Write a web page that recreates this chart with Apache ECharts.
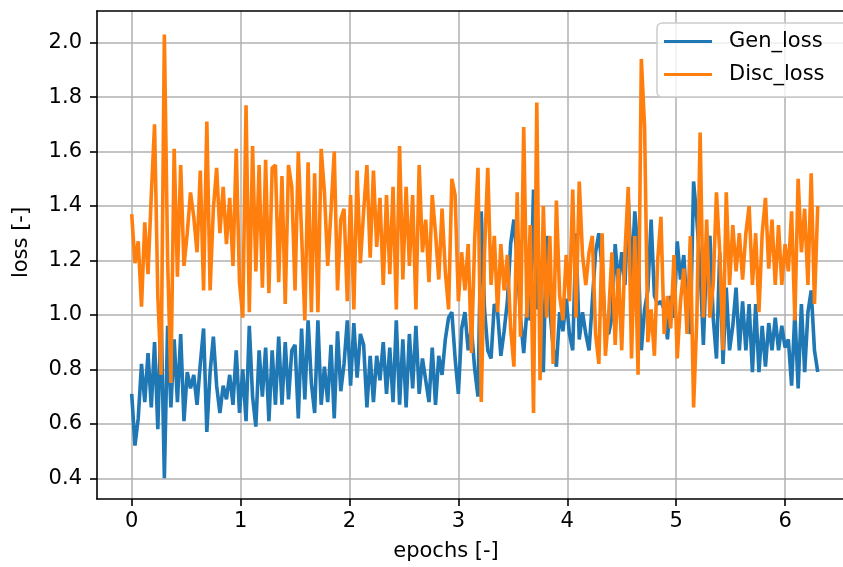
<!DOCTYPE html>
<html>
<head>
<meta charset="utf-8">
<script src="https://cdn.jsdelivr.net/npm/echarts@6/dist/echarts.min.js"></script>
<style>
html,body{margin:0;padding:0;background:#fff;}
#chart{width:843px;height:567px;}
</style>
</head>
<body>
<div id="chart"></div>
<script>
// sampling step of the logged losses, in epochs
const EPOCH_STEP = 0.03;

const xTicks = [0, 1, 2, 3, 4, 5, 6];
const yTicks = [0.4, 0.6, 0.8, 1.0, 1.2, 1.4, 1.6, 1.8, 2.0];
const seriesNames = ['Gen_loss', 'Disc_loss'];

const genLoss = [
  0.71, 0.52, 0.62, 0.82, 0.68, 0.86, 0.66, 0.90, 0.58, 1.01, 0.40, 0.96, 0.66, 0.91, 0.68, 0.93, 0.61, 0.79, 0.73, 0.78, 0.67, 0.82, 0.95, 0.57, 0.79, 0.92, 0.74, 0.64, 0.74, 0.69, 0.78, 0.67, 0.87, 0.64,
  0.80, 0.61, 0.96, 0.70, 0.59, 0.87, 0.70, 0.88, 0.61, 0.87, 0.67, 0.92, 0.67, 0.90, 0.69, 0.87, 0.89, 0.62, 0.95, 0.69, 0.98, 0.75, 0.64, 0.98, 0.67, 0.81, 0.68, 0.89, 0.62, 0.94, 0.72, 0.82, 0.98, 0.74, 0.97,
  0.77, 0.93, 0.89, 0.66, 0.85, 0.68, 0.85, 0.76, 0.90, 0.71, 0.88, 0.68, 0.98, 0.67, 0.91, 0.66, 0.93, 0.73, 0.96, 0.71, 0.84, 0.76, 0.68, 0.88, 0.67, 0.85, 0.78, 0.91, 0.99, 1.01, 0.84, 0.71, 0.95, 1.01, 0.87,
  0.95, 0.80, 0.70, 1.38, 1.02, 0.87, 0.84, 1.04, 1.01, 0.85, 0.94, 1.05, 1.26, 1.35, 1.20, 0.99, 0.86, 1.02, 0.98, 1.46, 1.02, 1.20, 0.79, 1.29, 1.02, 0.88, 0.81, 1.01, 0.94, 1.06, 0.93, 0.87, 1.30, 0.91, 1.01,
  0.93, 0.87, 1.05, 1.23, 1.30, 1.17, 0.94, 0.93, 0.99, 1.26, 1.11, 1.23, 1.11, 1.43, 1.13, 1.38, 1.23, 0.87, 1.02, 1.09, 1.35, 1.07, 1.04, 1.05, 1.02, 0.91, 1.07, 0.99, 1.27, 1.13, 1.22, 1.01, 0.93, 1.49, 1.35, 1.17,
  0.89, 1.23, 1.29, 0.99, 0.84, 1.23, 0.82, 1.10, 0.87, 0.96, 1.10, 0.87, 1.05, 0.87, 1.04, 0.79, 1.04, 0.79, 0.96, 0.81, 0.97, 0.87, 0.99, 0.87, 0.96, 0.88, 0.91, 0.74, 1.01, 0.73, 1.04, 0.79, 1.01, 1.09, 0.87, 0.79
];

const discLoss = [
  1.37, 1.19, 1.27, 1.03, 1.34, 1.15, 1.44, 1.70, 1.07, 0.78, 2.03, 1.20, 0.75, 1.61, 1.14, 1.55, 1.18, 1.30, 1.45, 1.36, 1.23, 1.53, 1.09, 1.71, 1.09, 1.39, 1.54, 1.30, 1.47, 1.26, 1.43, 1.18, 1.61, 1.12,
  0.99, 1.77, 1.01, 1.62, 1.16, 1.55, 1.10, 1.57, 1.08, 1.54, 1.55, 1.12, 1.51, 1.04, 1.55, 1.47, 1.09, 1.60, 1.30, 0.98, 1.56, 1.01, 1.52, 1.01, 1.61, 1.45, 1.18, 1.38, 1.60, 1.09, 1.35, 1.39, 1.05, 1.44, 1.02,
  1.53, 1.19, 1.38, 1.55, 1.21, 1.53, 1.25, 1.43, 1.11, 1.44, 1.15, 1.47, 1.02, 1.62, 1.13, 1.47, 1.18, 1.44, 1.02, 1.55, 1.23, 1.35, 1.12, 1.44, 1.30, 1.13, 1.39, 1.16, 1.02, 1.50, 1.44, 1.05, 1.23, 1.09, 1.26,
  0.86, 1.28, 1.54, 0.68, 1.23, 1.54, 1.11, 1.29, 1.01, 1.26, 1.09, 1.22, 0.95, 0.81, 1.45, 0.92, 1.69, 0.99, 1.33, 0.64, 1.78, 0.76, 1.40, 0.99, 1.29, 0.82, 1.42, 1.07, 0.98, 1.22, 1.05, 1.46, 0.99, 1.49, 1.22,
  1.11, 1.23, 1.29, 0.93, 0.82, 1.30, 0.85, 1.00, 1.23, 0.89, 1.17, 0.87, 1.23, 1.47, 0.84, 1.29, 0.78, 1.94, 1.69, 0.90, 1.02, 0.85, 1.20, 1.36, 0.93, 1.07, 0.95, 1.22, 0.84, 1.05, 1.17, 0.93, 1.29, 0.66, 0.99, 1.67,
  0.99, 1.35, 0.99, 1.11, 1.45, 1.23, 0.87, 1.45, 1.11, 1.33, 1.16, 1.30, 1.13, 1.30, 1.40, 1.11, 1.30, 1.01, 1.30, 1.43, 1.17, 1.35, 1.11, 1.33, 1.11, 1.26, 1.16, 1.38, 0.98, 1.50, 1.23, 1.39, 1.11, 1.52, 1.04, 1.40
];

function toPairs(values) {
  return values.map(function (v, i) { return [+(i * EPOCH_STEP).toFixed(4), v]; });
}

const FONT = 'DejaVu Sans';
const X_MIN = -0.3186, X_MAX = 6.532;
const chart = echarts.init(document.getElementById('chart'), null, { renderer: 'canvas' });

chart.setOption({
  animation: false,
  backgroundColor: '#ffffff',
  grid: { left: 97, right: 0, top: 11, bottom: 65, containLabel: false },
  graphic: [
    {
      type: 'text',
      x: 21.5,
      y: 242.5,
      rotation: Math.PI / 2,
      style: {
        text: 'loss [-]',
        fontFamily: FONT,
        fontSize: 21,
        fill: '#000',
        align: 'center',
        verticalAlign: 'middle'
      }
    }
  ],
  legend: {
    orient: 'vertical',
    left: 657,
    top: 23,
    padding: [8, 30, 12, 7],
    itemGap: 12,
    itemWidth: 48,
    itemHeight: 3,
    icon: 'rect',
    backgroundColor: 'rgba(255,255,255,0.8)',
    borderColor: '#cccccc',
    borderWidth: 1.5,
    borderRadius: 5,
    textStyle: { fontFamily: FONT, fontSize: 21, color: '#000', padding: [0, 0, 0, 12] },
    data: seriesNames
  },
  xAxis: [
    {
      type: 'value',
      min: X_MIN,
      max: X_MAX,
      name: 'epochs [-]',
      nameLocation: 'middle',
      nameGap: 42,
      nameTextStyle: { fontFamily: FONT, fontSize: 21, color: '#000', padding: [0, 48, 0, 0] },
      axisLine: { show: true, onZero: false, lineStyle: { color: '#000', width: 1.6 } },
      axisTick: { show: true, inside: false, length: 7, lineStyle: { color: '#000', width: 1.6 }, customValues: xTicks },
      axisLabel: { customValues: xTicks, fontFamily: FONT, fontSize: 21, color: '#000', margin: 12,
        formatter: function (v) { return String(v); } },
      splitLine: { show: true, lineStyle: { color: '#b0b0b0', width: 1.5 } }
    },
    {
      type: 'value',
      position: 'top',
      min: X_MIN,
      max: X_MAX,
      axisLine: { show: true, onZero: false, lineStyle: { color: '#000', width: 1.6 } },
      axisTick: { show: false },
      axisLabel: { show: false },
      splitLine: { show: false }
    }
  ],
  yAxis: {
    type: 'value',
    min: 0.324,
    max: 2.116,
    axisLine: { show: true, onZero: false, lineStyle: { color: '#000', width: 1.6 } },
    axisTick: { show: true, inside: false, length: 7, lineStyle: { color: '#000', width: 1.6 }, customValues: yTicks },
    axisLabel: { customValues: yTicks, fontFamily: FONT, fontSize: 21, color: '#000', margin: 15,
      formatter: function (v) { return v.toFixed(1); } },
    splitLine: { show: true, lineStyle: { color: '#b0b0b0', width: 1.5 } }
  },
  series: [
    {
      name: seriesNames[0],
      type: 'line',
      xAxisIndex: 0,
      data: toPairs(genLoss),
      showSymbol: false,
      symbol: 'none',
      color: '#1f77b4',
      lineStyle: { color: '#1f77b4', width: 3.6 },
      z: 2
    },
    {
      name: seriesNames[1],
      type: 'line',
      xAxisIndex: 0,
      data: toPairs(discLoss),
      showSymbol: false,
      symbol: 'none',
      color: '#ff7f0e',
      lineStyle: { color: '#ff7f0e', width: 3.6 },
      z: 3
    }
  ]
});
</script>
</body>
</html>
